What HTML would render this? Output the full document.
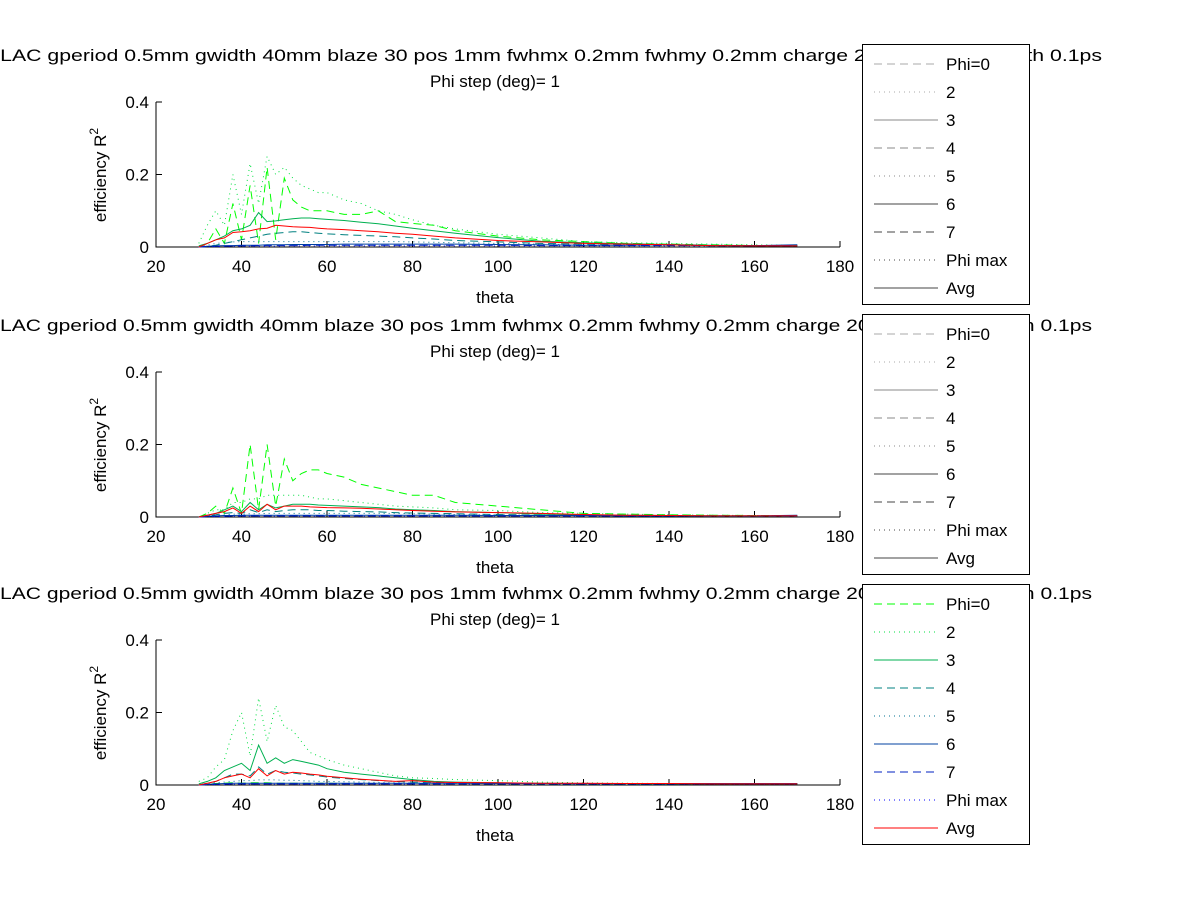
<!DOCTYPE html>
<html><head><meta charset="utf-8"><style>
html,body{margin:0;padding:0;background:#fff;width:1200px;height:901px;overflow:hidden}
svg{font-family:"Liberation Sans",sans-serif}
</style></head><body>
<svg id="fig" width="1200" height="901" viewBox="0 0 1200 901" xmlns="http://www.w3.org/2000/svg"></svg>
<script>
const theta=[30,32,34,36,38,40,42,44,46,48,50,52,54,56,58,60,64,68,72,76,80,85,90,100,110,120,130,140,150,160,170];
const xTicks=[20,40,60,80,100,120,140,160,180];
const yTicks=[0,0.2,0.4];
const legendLabels=["Phi=0","2","3","4","5","6","7","Phi max","Avg"];
// plot 1
const p1_phi0=[0,0.01,0.05,0.01,0.12,0.02,0.17,0.01,0.22,0.02,0.19,0.13,0.11,0.1,0.1,0.1,0.09,0.09,0.1,0.07,0.065,0.06,0.045,0.03,0.02,0.015,0.01,0.008,0.006,0.004,0.004];
const p1_s2=[0.01,0.06,0.1,0.06,0.2,0.09,0.23,0.12,0.25,0.2,0.22,0.19,0.17,0.16,0.15,0.15,0.13,0.12,0.1,0.09,0.075,0.06,0.05,0.035,0.025,0.015,0.012,0.01,0.008,0.006,0.005];
const p1_s3=[0.003,0.01,0.02,0.03,0.045,0.05,0.06,0.095,0.07,0.072,0.075,0.078,0.08,0.08,0.078,0.076,0.073,0.068,0.064,0.058,0.052,0.045,0.038,0.026,0.016,0.012,0.009,0.007,0.005,0.004,0.004];
const p1_s4=[0,0.002,0.005,0.01,0.015,0.02,0.025,0.03,0.035,0.038,0.04,0.042,0.042,0.04,0.038,0.036,0.034,0.032,0.03,0.028,0.025,0.022,0.018,0.014,0.01,0.008,0.006,0.005,0.004,0.003,0.003];
const p1_s5=[0,0.005,0.01,0.012,0.014,0.015,0.015,0.015,0.015,0.015,0.015,0.015,0.015,0.015,0.015,0.015,0.015,0.015,0.015,0.015,0.014,0.013,0.012,0.01,0.008,0.006,0.005,0.004,0.004,0.003,0.003];
const p1_s6=[0,0.002,0.003,0.004,0.004,0.005,0.005,0.005,0.006,0.006,0.006,0.007,0.007,0.007,0.007,0.007,0.008,0.008,0.008,0.008,0.008,0.008,0.008,0.007,0.006,0.005,0.005,0.006,0.004,0.004,0.006];
const p1_s7=[0,0.001,0.002,0.002,0.003,0.003,0.003,0.004,0.004,0.004,0.004,0.004,0.004,0.005,0.005,0.005,0.005,0.005,0.005,0.005,0.005,0.005,0.005,0.005,0.004,0.004,0.004,0.004,0.004,0.003,0.004];
const p1_s8=[0,0.001,0.001,0.002,0.002,0.002,0.002,0.002,0.002,0.002,0.003,0.003,0.003,0.003,0.003,0.003,0.003,0.003,0.003,0.003,0.003,0.003,0.003,0.003,0.003,0.003,0.003,0.003,0.003,0.003,0.003];
const p1_avg=[0,0.01,0.02,0.025,0.04,0.042,0.045,0.05,0.052,0.06,0.058,0.056,0.055,0.054,0.052,0.05,0.048,0.045,0.042,0.038,0.035,0.03,0.025,0.018,0.014,0.01,0.008,0.006,0.004,0.003,0.003];
// plot 2
const p2_phi0=[0,0.01,0.03,0.01,0.08,0.01,0.2,0.02,0.2,0.03,0.16,0.1,0.12,0.13,0.13,0.12,0.11,0.09,0.08,0.07,0.06,0.06,0.04,0.03,0.02,0.01,0.008,0.006,0.005,0.004,0.004];
const p2_s2=[0,0.01,0.02,0.02,0.04,0.04,0.05,0.05,0.06,0.06,0.06,0.06,0.06,0.055,0.05,0.05,0.045,0.04,0.035,0.03,0.028,0.025,0.02,0.018,0.012,0.01,0.008,0.006,0.005,0.004,0.004];
const p2_s3=[0,0.005,0.01,0.02,0.03,0.015,0.04,0.02,0.035,0.025,0.03,0.035,0.035,0.035,0.033,0.032,0.03,0.028,0.026,0.022,0.02,0.018,0.015,0.012,0.008,0.006,0.005,0.004,0.003,0.003,0.003];
const p2_s4=[0,0.003,0.006,0.01,0.012,0.01,0.02,0.012,0.02,0.015,0.018,0.02,0.02,0.02,0.018,0.018,0.016,0.015,0.014,0.012,0.011,0.01,0.009,0.007,0.005,0.004,0.003,0.003,0.002,0.002,0.002];
const p2_s5=[0,0.003,0.005,0.006,0.008,0.008,0.009,0.009,0.01,0.01,0.01,0.01,0.01,0.01,0.01,0.01,0.01,0.01,0.01,0.01,0.009,0.008,0.007,0.006,0.005,0.004,0.004,0.003,0.003,0.003,0.003];
const p2_s6=[0,0.002,0.003,0.004,0.004,0.005,0.005,0.005,0.005,0.005,0.005,0.005,0.005,0.005,0.005,0.005,0.005,0.005,0.005,0.005,0.005,0.005,0.005,0.004,0.004,0.004,0.003,0.003,0.003,0.003,0.005];
const p2_s7=[0,0.001,0.002,0.002,0.003,0.003,0.003,0.003,0.003,0.003,0.003,0.003,0.003,0.003,0.003,0.003,0.003,0.003,0.003,0.003,0.003,0.003,0.003,0.003,0.003,0.003,0.003,0.003,0.003,0.003,0.003];
const p2_s8=[0,0.001,0.001,0.001,0.002,0.002,0.002,0.002,0.002,0.002,0.002,0.002,0.002,0.002,0.002,0.002,0.002,0.002,0.002,0.002,0.002,0.002,0.002,0.002,0.002,0.002,0.002,0.002,0.002,0.002,0.002];
const p2_avg=[0,0.005,0.01,0.015,0.025,0.01,0.03,0.015,0.035,0.02,0.03,0.03,0.03,0.028,0.027,0.026,0.025,0.024,0.022,0.02,0.018,0.016,0.014,0.012,0.01,0.007,0.005,0.004,0.003,0.003,0.003];
// plot 3
const p3_phi0=[0,0.002,0.004,0.005,0.006,0.005,0.006,0.006,0.006,0.005,0.005,0.005,0.005,0.005,0.005,0.005,0.004,0.004,0.004,0.004,0.004,0.004,0.004,0.003,0.003,0.003,0.003,0.003,0.003,0.003,0.003];
const p3_s2=[0.01,0.02,0.05,0.07,0.15,0.2,0.08,0.24,0.12,0.22,0.16,0.15,0.12,0.09,0.08,0.07,0.055,0.045,0.035,0.025,0.02,0.018,0.015,0.012,0.008,0.006,0.005,0.004,0.004,0.003,0.003];
const p3_s3=[0.003,0.01,0.02,0.04,0.05,0.06,0.04,0.11,0.06,0.075,0.06,0.07,0.065,0.06,0.055,0.045,0.035,0.03,0.025,0.02,0.015,0.01,0.008,0.006,0.005,0.004,0.004,0.003,0.003,0.003,0.003];
const p3_s4=[0,0.005,0.01,0.02,0.03,0.03,0.025,0.05,0.03,0.04,0.035,0.033,0.03,0.028,0.025,0.022,0.018,0.015,0.012,0.01,0.008,0.006,0.005,0.004,0.004,0.003,0.003,0.003,0.003,0.003,0.003];
const p3_s5=[0,0.004,0.006,0.008,0.01,0.012,0.012,0.014,0.014,0.014,0.013,0.013,0.012,0.011,0.01,0.01,0.009,0.008,0.007,0.006,0.006,0.005,0.005,0.004,0.004,0.003,0.003,0.003,0.003,0.003,0.003];
const p3_s6=[0,0.002,0.003,0.004,0.005,0.005,0.005,0.005,0.005,0.005,0.005,0.005,0.005,0.005,0.005,0.005,0.005,0.005,0.005,0.005,0.005,0.005,0.005,0.004,0.004,0.004,0.004,0.004,0.004,0.004,0.004];
const p3_s7=[0,0.001,0.002,0.002,0.003,0.003,0.003,0.003,0.003,0.003,0.003,0.003,0.003,0.003,0.003,0.003,0.003,0.003,0.003,0.003,0.003,0.003,0.003,0.003,0.003,0.003,0.003,0.003,0.003,0.003,0.003];
const p3_s8=[0,0.001,0.001,0.001,0.002,0.002,0.002,0.002,0.002,0.002,0.002,0.002,0.002,0.002,0.002,0.002,0.002,0.002,0.002,0.002,0.002,0.002,0.002,0.002,0.002,0.002,0.002,0.002,0.002,0.002,0.002];
const p3_avg=[0,0.005,0.01,0.02,0.025,0.03,0.02,0.045,0.025,0.04,0.03,0.035,0.033,0.03,0.028,0.024,0.02,0.016,0.013,0.01,0.012,0.008,0.007,0.006,0.005,0.005,0.004,0.004,0.003,0.003,0.003];

const NS="http://www.w3.org/2000/svg";
const svg=document.getElementById('fig');
function mk(tag,attrs,parent){const e=document.createElementNS(NS,tag);for(const k in attrs)e.setAttribute(k,attrs[k]);(parent||svg).appendChild(e);return e;}
const colors=["#00ff00","#00e040","#00b050","#008080","#007090","#0040a0","#0020c0","#0000ff","#ff0000"];
const greys=["#aaa","#aaa","#888","#888","#888","#444","#444","#444","#444"];
const dashes=["8,5","1,4","","8,5","1,4","","8,5","1,4",""];
const X0=156,X1=840;
function xs(t){return X0+(t-20)/(180-20)*(X1-X0);}
const plots=[
 {y0:247,series:[p1_phi0,p1_s2,p1_s3,p1_s4,p1_s5,p1_s6,p1_s7,p1_s8,p1_avg],leg:44,legColor:false,tEnd:1102},
 {y0:517,series:[p2_phi0,p2_s2,p2_s3,p2_s4,p2_s5,p2_s6,p2_s7,p2_s8,p2_avg],leg:314,legColor:false,tEnd:1092},
 {y0:785,series:[p3_phi0,p3_s2,p3_s3,p3_s4,p3_s5,p3_s6,p3_s7,p3_s8,p3_avg],leg:584,legColor:true,tEnd:1092}
];
plots.forEach((p,pi)=>{
 const g=mk('g',{});
 
 
 const ys=v=>p.y0-v/0.4*145;
 const t1=mk('text',{x:-14,y:p.y0-186,'font-size':17,textLength:p.tEnd+14,lengthAdjust:'spacingAndGlyphs'},g);
 t1.textContent="SLAC gperiod 0.5mm gwidth 40mm blaze 30 pos 1mm fwhmx 0.2mm fwhmy 0.2mm charge 200pC bunch length 0.1ps";
 
 
 const t2=mk('text',{x:495,y:p.y0-160,'font-size':17,'text-anchor':'middle'},g);
 t2.textContent="Phi step (deg)= 1";
 
 
 const ax=mk('path',{d:`M${X0},${p.y0-145}V${p.y0}H${X1}`,stroke:'#000',fill:'none','stroke-width':1},g);
 
 
 xTicks.forEach(v=>{
  const x=xs(v);
  mk('line',{x1:x,x2:x,y1:p.y0,y2:p.y0-6,stroke:'#000'},g);
  const tl=mk('text',{x:x,y:p.y0+25,'font-size':17,'text-anchor':'middle'},g);
  tl.textContent=v;
  
  
 });
 yTicks.forEach(v=>{
  const y=ys(v);
  mk('line',{x1:X0,x2:X0+6,y1:y,y2:y,stroke:'#000'},g);
  const tl=mk('text',{x:149,y:y+6,'font-size':17,'text-anchor':'end'},g);
  tl.textContent=v;
  
  
 });
 const xl=mk('text',{x:495,y:p.y0+56,'font-size':17,'text-anchor':'middle'},g);
 xl.textContent="theta";
 
 
 const yl=mk('text',{transform:`translate(106,${p.y0-72}) rotate(-90)`,'font-size':17,'text-anchor':'middle'},g);
 yl.innerHTML='efficiency R<tspan dy="-8" font-size="12">2</tspan>';
 
 
 p.series.forEach((arr,si)=>{
  const d=arr.map((v,i)=>(i?'L':'M')+xs(theta[i]).toFixed(1)+','+ys(v).toFixed(1)).join('');
  const a={d:d,fill:'none',stroke:colors[si],'stroke-width':1};
  if(dashes[si])a['stroke-dasharray']=dashes[si];
  const l=mk('path',a,g);
  
  
 });
 const lg=mk('g',{},g);
 
 
 mk('rect',{x:862.5,y:p.leg+0.5,width:167,height:260,fill:'#fff',stroke:'#000'},lg);
 legendLabels.forEach((lab,i)=>{
  const y=p.leg+20+i*28;
  const a={x1:874,x2:938,y1:y,y2:y,stroke:p.legColor?colors[i]:greys[i],'stroke-width':1};
  if(dashes[i])a['stroke-dasharray']=dashes[i];
  mk('line',a,lg);
  const tx=mk('text',{x:946,y:y+6,'font-size':17},lg);
  tx.textContent=lab;
  
  
 });
});
</script>
</body></html>
